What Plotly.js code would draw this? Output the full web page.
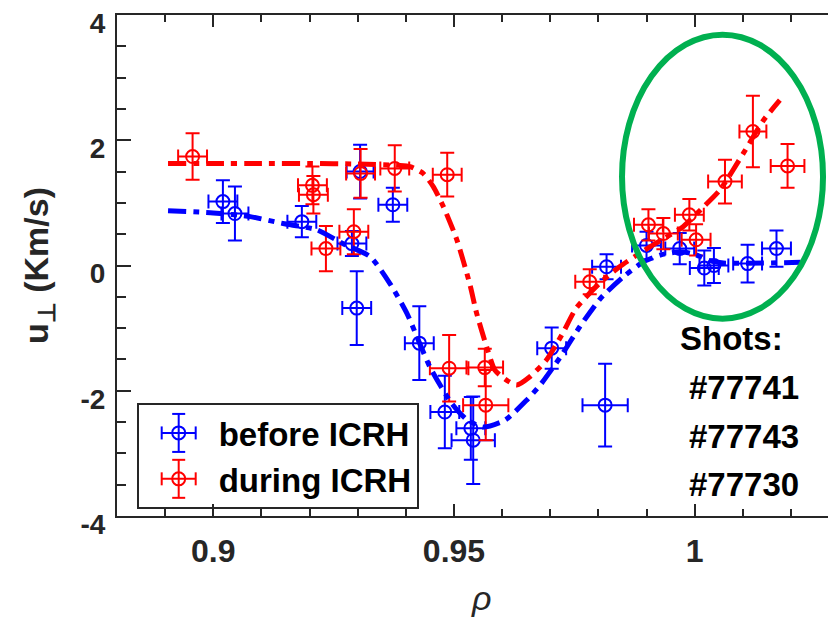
<!DOCTYPE html>
<html>
<head>
<meta charset="utf-8">
<script src="https://cdn.plot.ly/plotly-3.0.1.min.js"></script>
<style>html,body{margin:0;padding:0;background:#fff;}#chart{width:828px;height:621px;}</style>
</head>
<body>
<div id="chart"></div>
<script>
// before ICRH measurements
var beforeRho = [0.902, 0.9045, 0.9184, 0.9288, 0.9298, 0.9305, 0.9373, 0.9428, 0.9481, 0.9535, 0.954, 0.9703, 0.9814, 0.9817, 0.990, 0.9969, 1.002, 1.004, 1.011, 1.017];
var beforeU   = [1.02, 0.83, 0.70, 0.35, -0.68, 1.50, 0.97, -1.24, -2.34, -2.60, -2.79, -1.32, -2.23, -0.02, 0.32, 0.27, -0.04, 0.00, 0.03, 0.27];
var beforeUErr   = [0.34, 0.43, 0.25, 0.20, 0.59, 0.43, 0.27, 0.59, 0.58, 0.50, 0.70, 0.33, 0.66, 0.20, 0.22, 0.25, 0.28, 0.28, 0.30, 0.29];
var beforeRhoErr = [0.003, 0.0028, 0.003, 0.003, 0.003, 0.0028, 0.003, 0.003, 0.003, 0.003, 0.0045, 0.003, 0.0047, 0.003, 0.003, 0.003, 0.003, 0.003, 0.003, 0.003];

// during ICRH measurements
var duringRho = [0.8957, 0.9206, 0.9208, 0.9234, 0.9292, 0.9306, 0.9377, 0.9486, 0.9490, 0.9564, 0.9566, 0.9782, 0.9904, 0.9935, 0.9989, 1.0003, 1.0063, 1.0121, 1.0193];
var duringU   = [1.74, 1.28, 1.13, 0.27, 0.54, 1.47, 1.55, 1.45, -1.64, -1.63, -2.23, -0.26, 0.65, 0.51, 0.81, 0.41, 1.34, 2.14, 1.59];
var duringUErr   = [0.37, 0.30, 0.30, 0.36, 0.36, 0.39, 0.37, 0.35, 0.53, 0.30, 0.56, 0.20, 0.25, 0.25, 0.25, 0.25, 0.35, 0.57, 0.35];
var duringRhoErr = [0.003, 0.003, 0.003, 0.003, 0.003, 0.003, 0.003, 0.003, 0.004, 0.0038, 0.0047, 0.003, 0.003, 0.003, 0.003, 0.003, 0.0035, 0.0028, 0.0035];

// fitted profiles
var beforeFitRho = [0.8906, 0.900, 0.9077, 0.9145, 0.9215, 0.9269, 0.9326, 0.9368, 0.9402, 0.945, 0.9495, 0.9525, 0.9561, 0.9606, 0.9651, 0.9679, 0.9722, 0.9762, 0.9805, 0.9852, 0.9894, 0.993, 0.997, 1.000, 1.003, 1.006, 1.022];
var beforeFitU   = [0.875, 0.84, 0.78, 0.67, 0.57, 0.35, 0.14, -0.30, -0.76, -1.62, -2.20, -2.45, -2.58, -2.47, -2.15, -1.91, -1.45, -0.97, -0.52, -0.18, 0.06, 0.17, 0.22, 0.18, 0.08, 0.04, 0.05];
var duringFitRho = [0.8906, 0.900, 0.910, 0.920, 0.930, 0.9385, 0.9409, 0.9436, 0.9457, 0.9478, 0.9506, 0.9533, 0.9547, 0.9568, 0.9585, 0.9609, 0.963, 0.9657, 0.9692, 0.9726, 0.9754, 0.9803, 0.9844, 0.9897, 0.9936, 0.9976, 1.0015, 1.0053, 1.0101, 1.0143, 1.0177];
var duringFitU   = [1.63, 1.63, 1.63, 1.63, 1.62, 1.60, 1.58, 1.47, 1.26, 0.94, 0.41, -0.30, -0.76, -1.30, -1.67, -1.83, -1.91, -1.78, -1.51, -1.08, -0.68, -0.28, -0.02, 0.25, 0.43, 0.62, 0.91, 1.21, 1.79, 2.32, 2.64];

var seriesNames = ['before ICRH', 'during ICRH'];
var shotLabels = ['Shots:', '#77741', '#77743', '#77730'];
var xTicks = [0.9, 0.95, 1];
var xTickText = ['0.9', '0.95', '1'];
var yTicks = [-4, -2, 0, 2, 4];
var yTickText = ['-4', '-2', '0', '2', '4'];

var BLUE = '#0000ff', RED = '#ff0000', AX = '#262626';
var FONT = 'Liberation Sans, Arial, sans-serif';

function pts(x, y, ex, ey, color, name) {
  return {
    type: 'scatter', mode: 'markers', x: x, y: y, name: name,
    marker: {symbol: 'circle-open', size: 13, color: color, line: {width: 2, color: color}},
    error_y: {type: 'data', array: ey, visible: true, color: color, thickness: 2, width: 7},
    error_x: {type: 'data', array: ex, visible: true, color: color, thickness: 2, width: 7},
    cliponaxis: false
  };
}
function fit(x, y, color) {
  return {
    type: 'scatter', mode: 'lines', x: x, y: y, showlegend: false, hoverinfo: 'skip',
    line: {color: color, width: 5, dash: '18px,7px,6px,7px', shape: 'spline', smoothing: 0.6}
  };
}

var traces = [
  pts(beforeRho, beforeU, beforeRhoErr, beforeUErr, BLUE, seriesNames[0]),
  pts(duringRho, duringU, duringRhoErr, duringUErr, RED, seriesNames[1]),
  fit(beforeFitRho, beforeFitU, BLUE),
  fit(duringFitRho, duringFitU, RED)
];

var shotY = [0.3547, 0.2555, 0.1583, 0.0619];
var shotX = [0.7890, 0.8010, 0.8010, 0.8010];
var annotations = shotLabels.map(function (t, i) {
  return {text: '<b>' + t + '</b>', xref: 'paper', yref: 'paper', x: shotX[i], y: shotY[i],
    xanchor: 'left', yanchor: 'middle', showarrow: false,
    font: {family: FONT, size: 33, color: '#000'}};
});
annotations.push({text: '<i>ρ</i>', xref: 'paper', yref: 'paper', x: 0.512, y: -0.205,
  xanchor: 'center', yanchor: 'bottom', showarrow: false,
  font: {family: FONT, size: 34, color: AX}});

var baseShapes = [{type: 'circle', xref: 'paper', yref: 'paper', x0: 0.7103, x1: 0.993, y0: 0.3938, y1: 0.9607,
  line: {color: '#00b050', width: 6}, layer: 'above'}];

var layout = {
  width: 828, height: 621,
  margin: {l: 117, r: 0, t: 15, b: 105},
  paper_bgcolor: '#fff', plot_bgcolor: '#fff',
  showlegend: true,
  legend: {x: 0.0277, y: 0.2256, xanchor: 'left', yanchor: 'top',
    bgcolor: 'rgba(255,255,255,0)', bordercolor: AX, borderwidth: 2, itemwidth: 70,
    font: {family: FONT, size: 33, color: '#000', weight: 'bold'}},
  xaxis: {range: [0.88, 1.0277], tickvals: xTicks, ticktext: xTickText,
    showline: true, linecolor: AX, linewidth: 2, mirror: 'ticks',
    ticks: 'inside', ticklen: 12, tickwidth: 2, tickcolor: AX,
    minor: {dtick: 0.01, tick0: 0.88, ticks: 'inside', ticklen: 7, tickwidth: 2, tickcolor: AX},
    showgrid: false, zeroline: false, ticklabelstandoff: 6,
    tickfont: {family: FONT, size: 32, color: AX, weight: 'bold'}},
  yaxis: {range: [-4, 4], tickvals: yTicks, ticktext: yTickText,
    showline: true, linecolor: AX, linewidth: 2, mirror: false,
    ticks: 'inside', ticklen: 14, tickwidth: 2, tickcolor: AX,
    minor: {dtick: 0.5, tick0: 0, ticks: 'inside', ticklen: 9, tickwidth: 2, tickcolor: AX},
    showgrid: false, zeroline: false, ticklabelstandoff: 4, ticklabelshift: 8,
    tickfont: {family: FONT, size: 28, color: AX, weight: 'bold'},
    title: {text: '<b>u<sub>⊥</sub> (Km/s)</b>', standoff: 22,
      font: {family: FONT, size: 34, color: AX}}},
  shapes: baseShapes,
  annotations: annotations
};

Plotly.newPlot('chart', traces, layout, {displayModeBar: false, staticPlot: true}).then(function (gd) {
  // add error-bar glyphs to the legend symbols (legend decoration only)
  var s = gd._fullLayout._size;
  var box = gd.getBoundingClientRect();
  var colors = [BLUE, RED];
  var shapes = baseShapes.slice();
  var groups = gd.querySelectorAll('.legend .traces');
  groups.forEach(function (g, i) {
    var p = g.querySelector('.scatterpts') || g.querySelector('.legendpoints');
    if (!p) return;
    var r = p.getBoundingClientRect();
    var cx = r.left + r.width / 2 - box.left;
    var cy = r.top + r.height / 2 - box.top;
    var X = function (px) { return (px - s.l) / s.w; };
    var Y = function (py) { return 1 - (py - s.t) / s.h; };
    var c = colors[i % 2];
    function seg(x0, y0, x1, y1) {
      shapes.push({type: 'line', xref: 'paper', yref: 'paper', x0: X(x0), y0: Y(y0), x1: X(x1), y1: Y(y1),
        line: {color: c, width: 2}, layer: 'above'});
    }
    seg(cx, cy - 19, cx, cy + 19);
    seg(cx - 6.5, cy - 19, cx + 6.5, cy - 19);
    seg(cx - 6.5, cy + 19, cx + 6.5, cy + 19);
    seg(cx - 17, cy, cx + 17, cy);
    seg(cx - 17, cy - 6.5, cx - 17, cy + 6.5);
    seg(cx + 17, cy - 6.5, cx + 17, cy + 6.5);
  });
  return Plotly.relayout(gd, {shapes: shapes});
});
</script>
</body>
</html>
